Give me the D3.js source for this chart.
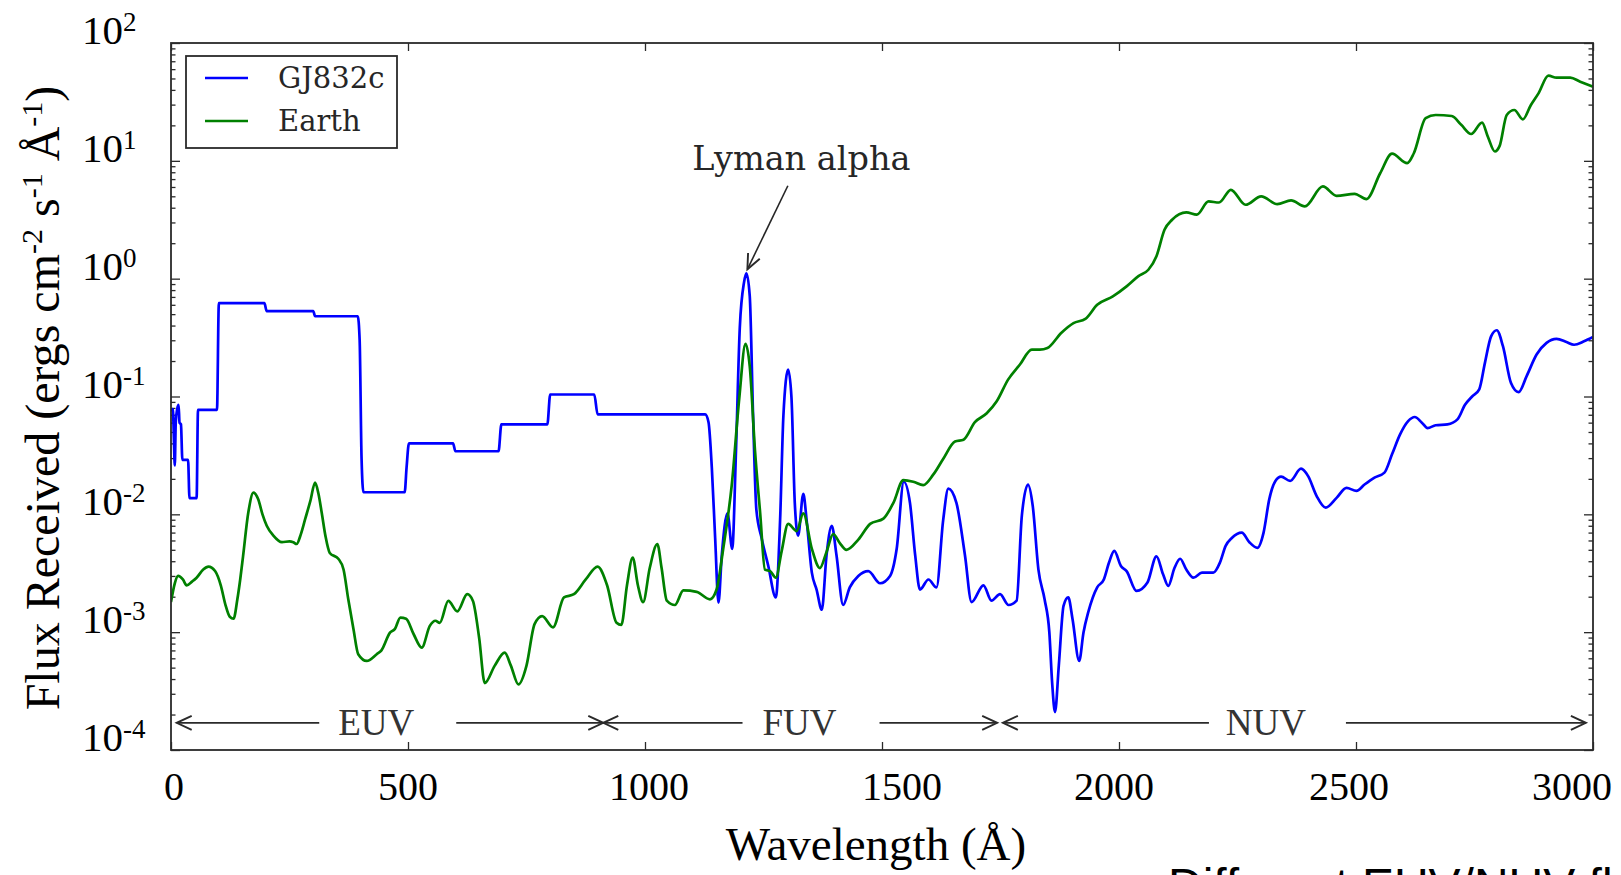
<!DOCTYPE html>
<html>
<head>
<meta charset="utf-8">
<script src="https://cdn.jsdelivr.net/npm/d3@7"></script>
<style>
html,body{margin:0;padding:0;background:#fff;overflow:hidden}
svg{display:block}
</style>
</head>
<body>
<svg id="chart" width="1621" height="875"></svg>
<script>
// ---------------- DATA ----------------
const seriesNames = ["GJ832c", "Earth"];
const seriesColors = ["#0000ff", "#008000"];

// GJ832c (blue): wavelength (Å) and flux (ergs cm^-2 s^-1 Å^-1)
const gjWave = [0,4,6,8,10,13,16,18,21,24,36,39,54,57,97,101,197,202,300,304,394,398,402,406,493,497,502,595,600,691,697,794,800,893,900,1127,
1134,1141,1148,1155,1162,1174,1184,1192,1200,1209,1214,1221,1228,1235,1246,1260,1276,1285,1292,1302,1309,1316,1323,1334,1341,1352,1362,1373,1383,1394,1404,1418,1432,1450,1471,1496,1517,1531,1546,1559,1570,1580,1598,1615,1629,1640,1657,1675,1689,1714,1731,1749,1767,1784,1795,1808,1818,1830,1843,1853,1859,1865,1873,1883,1893,1902,1916,1925,1935,1954,1968,1979,1990,2004,2016,2037,2060,2079,2093,2104,2117,2129,2142,2157,2175,2199,2213,2225,2238,2259,2275,2292,2305,2317,2330,2342,2361,2384,2399,2417,2436,2459,2480,2501,2518,2539,2560,2576,2593,2610,2624,2639,2651,2668,2693,2714,2730,2745,2760,2772,2785,2797,2810,2827,2843,2860,2881,2902,2923,2944,2960,2981,3000];
const gjFlux = [0.075,0.078,0.045,0.026,0.06,0.078,0.085,0.06,0.058,0.029,0.029,0.0137,0.0137,0.077,0.077,0.62,0.62,0.53,0.53,0.48,0.48,0.3,0.03,0.0154,0.0154,0.025,0.04,0.04,0.0343,0.0343,0.058,0.058,0.104,0.104,0.0705,0.0705,
0.0605,0.0248,0.0063,0.00178,0.0045,0.0102,0.0051,0.035,0.385,0.935,1.11,0.71,0.069,0.0109,0.0063,0.00366,0.00197,0.0089,0.069,0.169,0.098,0.0125,0.0066,0.0149,0.0089,0.0032,0.0023,0.00155,0.0045,0.008,0.0045,0.0017,0.0024,0.003,0.0033,0.0026,0.003,0.0051,0.0189,0.0125,0.0045,0.0023,0.0028,0.0024,0.0089,0.0165,0.0125,0.0045,0.0018,0.0025,0.00185,0.0021,0.0017,0.00185,0.0097,0.0179,0.0118,0.0034,0.0019,0.001,0.00037,0.00021,0.00052,0.00167,0.00197,0.00129,0.00057,0.00099,0.00147,0.0024,0.0028,0.0039,0.0049,0.00365,0.0033,0.00224,0.00264,0.0044,0.0031,0.00247,0.0035,0.0042,0.0034,0.0029,0.0032,0.0032,0.0039,0.0054,0.0063,0.007,0.0058,0.0052,0.007,0.0134,0.0192,0.0209,0.0192,0.0244,0.0211,0.0143,0.0114,0.0138,0.0168,0.0158,0.0179,0.0205,0.0226,0.0323,0.0477,0.0618,0.067,0.06,0.054,0.057,0.058,0.064,0.085,0.1,0.115,0.193,0.324,0.365,0.267,0.13,0.109,0.149,0.227,0.285,0.308,0.29,0.275,0.294,0.32];

// Earth (green)
const earthWave = [0,8,15,25,33,45,54,68,79,93,105,115,124,132,140,146,152,163,174,184,193,202,216,234,250,258,265,274,283,294,304,311,318,326,335,353,364,374,385,395,413,434,444,462,472,484,496,512,529,546,558,567,585,604,625,637,650,662,683,704,717,733,750,767,783,806,829,850,875,900,920,940,950,962,974,985,996,1010,1026,1035,1046,1063,1081,1109,1137,1151,1165,1183,1199,1212,1221,1232,1243,1253,1264,1276,1288,1302,1320,1334,1352,1369,1383,1397,1411,1425,1450,1475,1503,1524,1545,1566,1587,1608,1629,1654,1672,1696,1721,1742,1766,1791,1816,1833,1849,1878,1904,1929,1954,1987,2016,2041,2062,2079,2096,2112,2142,2164,2189,2211,2236,2267,2300,2334,2363,2392,2430,2459,2497,2522,2551,2576,2608,2622,2647,2668,2702,2722,2743,2766,2778,2793,2803,2818,2834,2852,2869,2885,2906,2923,2952,2973,3000];
const earthFlux = [0.0018,0.0026,0.003,0.0028,0.0025,0.0027,0.0029,0.0034,0.0036,0.0033,0.0025,0.0017,0.00135,0.0013,0.0019,0.0028,0.0044,0.0103,0.0153,0.0134,0.01,0.008,0.0066,0.0058,0.0059,0.0058,0.0056,0.0068,0.0091,0.013,0.0186,0.015,0.0103,0.0065,0.0047,0.0042,0.0034,0.0019,0.00106,0.00065,0.00057,0.00065,0.0007,0.00099,0.00106,0.00133,0.0013,0.00096,0.00074,0.00113,0.00125,0.0012,0.00184,0.0015,0.0021,0.00184,0.0009,0.00037,0.00052,0.00067,0.00052,0.00036,0.00052,0.00117,0.00137,0.0011,0.00197,0.0021,0.0028,0.0036,0.0025,0.0012,0.00115,0.0025,0.0043,0.0025,0.0018,0.0035,0.0056,0.0035,0.00185,0.0017,0.00226,0.0022,0.0019,0.0023,0.0051,0.0177,0.098,0.28,0.18,0.035,0.0102,0.0034,0.0033,0.0029,0.0048,0.0083,0.0072,0.0102,0.0051,0.0035,0.0048,0.0068,0.0057,0.005,0.0061,0.0083,0.0092,0.0125,0.0195,0.0189,0.0177,0.0217,0.0295,0.0415,0.043,0.0605,0.072,0.091,0.139,0.187,0.25,0.25,0.258,0.346,0.42,0.455,0.6,0.707,0.86,1.05,1.19,1.55,2.6,3.16,3.65,3.49,4.52,4.43,5.68,4.24,4.99,4.29,4.61,4.1,6.06,5.05,5.25,4.73,7.85,11.5,9.55,11.6,23,24.5,24,20.2,16.9,21.1,16.1,12,13.4,24.5,27,22.5,29.8,37.4,52.8,50.8,50.8,47,42.6];

// Axes
const xTickValues = [0,500,1000,1500,2000,2500,3000];
const xTickLabels = ["0","500","1000","1500","2000","2500","3000"];
const yExponents = [-4,-3,-2,-1,0,1,2];
const yTickLabelBase = "10";

// Spectral regions (Å)
const regionNames = ["EUV","FUV","NUV"];
const regionStart = [12, 912, 1755];
const regionEnd   = [912, 1743, 2985];
const regionLabelAt = [433, 1326, 2310];
const regionArrowFlux = 1.7e-4;

// Lyman alpha annotation
const annLabel = "Lyman alpha";
const annPoint = [1216, 1.2];
const annText = [1330, 8.4];

// Text
const xTitle = "Wavelength (Å)";
const yTitleParts = [["Flux Received (ergs cm", false], ["-2", true], [" s", false], ["-1", true], [" Å", false], ["-1", true], [")", false]];
const caption = "Different EUV/NUV fluxes";

// ---------------- LAYOUT / STYLE ----------------
const plot = {left:171, right:1593, top:43, bottom:750};
const xLabelShift = [3,0,4,20,-5,-7,-21]; // placement of the retyped tick labels
const serif = "'Liberation Serif','Times New Roman',Times,serif";
const dserif = "'DejaVu Serif',serif";
const sans = "'Liberation Sans',Arial,sans-serif";
const ink = "#2a2a2a";

const svg = d3.select("#chart");
const x = d3.scaleLinear().domain([0,3000]).range([plot.left, plot.right]);
const y = d3.scaleLog().domain([1e-4,1e2]).range([plot.bottom, plot.top]);

// ticks via d3 axes (inward)
function styleAxis(g){
  g.select(".domain").remove();
  g.selectAll(".tick line").attr("stroke", ink).attr("stroke-width", 1.3);
}
svg.append("g").attr("transform",`translate(0,${plot.bottom})`)
  .call(d3.axisBottom(x).tickValues(xTickValues).tickSize(-8).tickFormat("")).call(styleAxis);
svg.append("g").attr("transform",`translate(0,${plot.top})`)
  .call(d3.axisTop(x).tickValues(xTickValues).tickSize(-8).tickFormat("")).call(styleAxis);

const majorY = yExponents.map(e => Math.pow(10,e));
const minorY = [];
yExponents.slice(0,-1).forEach(e => { for (let k=2;k<=9;k++) minorY.push(k*Math.pow(10,e)); });
[[d3.axisLeft, plot.left],[d3.axisRight, plot.right]].forEach(([ax,pos])=>{
  svg.append("g").attr("transform",`translate(${pos},0)`)
    .call(ax(y).tickValues(majorY).tickSize(-9).tickFormat("")).call(styleAxis);
  svg.append("g").attr("transform",`translate(${pos},0)`)
    .call(ax(y).tickValues(minorY).tickSize(-4.5).tickFormat("")).call(styleAxis);
});

// x tick labels
svg.append("g").selectAll("text").data(xTickValues).join("text")
  .attr("x",(d,i)=>x(d)+xLabelShift[i]).attr("y",800)
  .attr("text-anchor","middle").attr("font-family",serif).attr("font-size",40).attr("fill","#000")
  .text((d,i)=>xTickLabels[i]);

// y tick labels 10^n
const yl = svg.append("g").selectAll("text").data(yExponents).join("text")
  .attr("x",82).attr("y",d=>y(Math.pow(10,d))+1)
  .attr("font-family",serif).attr("font-size",41).attr("fill","#000");
yl.append("tspan").text(yTickLabelBase);
yl.append("tspan").attr("dy",-13).attr("font-size",27).text(d=>String(d));

// data lines
const line = d3.line().x(d=>x(d[0])).y(d=>y(d[1])).curve(d3.curveMonotoneX);
svg.append("clipPath").attr("id","pc").append("rect")
  .attr("x",plot.left).attr("y",plot.top).attr("width",plot.right-plot.left).attr("height",plot.bottom-plot.top);
const series = [d3.zip(gjWave,gjFlux), d3.zip(earthWave,earthFlux)];
svg.append("g").attr("clip-path","url(#pc)").selectAll("path").data(series).join("path")
  .attr("d",line).attr("fill","none").attr("stroke",(d,i)=>seriesColors[i])
  .attr("stroke-width",2.7).attr("stroke-linejoin","round");

// frame
svg.append("rect").attr("x",plot.left).attr("y",plot.top)
  .attr("width",plot.right-plot.left).attr("height",plot.bottom-plot.top)
  .attr("fill","none").attr("stroke",ink).attr("stroke-width",1.8);

// arrowhead helper
function arrowHead(g, tx, ty, ux, uy, L, Wd){
  const nx=-uy, ny=ux;
  g.append("path").attr("d",
    `M${tx-L*ux+Wd*nx},${ty-L*uy+Wd*ny}L${tx},${ty}L${tx-L*ux-Wd*nx},${ty-L*uy-Wd*ny}`)
    .attr("fill","none").attr("stroke",ink).attr("stroke-width",1.9);
}

// region arrows
const ra = svg.append("g");
const ry = y(regionArrowFlux);
regionNames.forEach((name,i)=>{
  const x0=x(regionStart[i]), x1=x(regionEnd[i]), xc=x(regionLabelAt[i]);
  ra.append("line").attr("x1",x0).attr("x2",xc-57).attr("y1",ry).attr("y2",ry).attr("stroke",ink).attr("stroke-width",1.9);
  ra.append("line").attr("x1",xc+80).attr("x2",x1).attr("y1",ry).attr("y2",ry).attr("stroke",ink).attr("stroke-width",1.9);
  arrowHead(ra,x0,ry,-1,0,15,7);
  arrowHead(ra,x1,ry,1,0,15,7);
  ra.append("text").attr("x",xc).attr("y",ry+12).attr("text-anchor","middle")
    .attr("font-family",serif).attr("font-size",37).attr("fill","#333").text(name);
});

// Lyman alpha annotation
const ag = svg.append("g");
const tx = x(annText[0]), tyb = y(annText[1]);
ag.append("text").attr("x",tx).attr("y",tyb).attr("text-anchor","middle")
  .attr("font-family",dserif).attr("font-size",33.5).attr("fill","#262626").text(annLabel);
const px = x(annPoint[0]), py = y(annPoint[1]);
const cx = tx, cy = tyb-12;
const sy = tyb+16, t = (sy-cy)/(py-cy), sx = cx + t*(px-cx);
ag.append("line").attr("x1",sx).attr("y1",sy).attr("x2",px).attr("y2",py).attr("stroke","#262626").attr("stroke-width",1.6);
{
  const dx=px-sx, dy=py-sy, len=Math.hypot(dx,dy);
  arrowHead(ag,px,py,dx/len,dy/len,15,6.5);
}

// legend
const lg = svg.append("g");
lg.append("rect").attr("x",186).attr("y",56).attr("width",211).attr("height",92)
  .attr("fill","#fff").attr("stroke",ink).attr("stroke-width",1.8);
seriesNames.forEach((n,i)=>{
  const yy = 78 + i*43;
  lg.append("line").attr("x1",205).attr("x2",248).attr("y1",yy).attr("y2",yy)
    .attr("stroke",seriesColors[i]).attr("stroke-width",2.7);
  lg.append("text").attr("x",278).attr("y",yy+10).attr("font-family",dserif)
    .attr("font-size",29).attr("fill","#262626").text(n);
});

// axis titles
svg.append("text").attr("x",876).attr("y",860).attr("text-anchor","middle")
  .attr("font-family",serif).attr("font-size",47).attr("fill","#000").text(xTitle);
const yt = svg.append("text").attr("transform","translate(59,398) rotate(-90)")
  .attr("text-anchor","middle").attr("font-family",serif).attr("font-size",48).attr("fill","#000");
let raised = false;
yTitleParts.forEach(([s,sup])=>{
  const ts = yt.append("tspan").text(s);
  if (sup && !raised){ ts.attr("dy",-17).attr("font-size",30); raised=true; }
  else if (!sup && raised){ ts.attr("dy",17); raised=false; }
  else if (sup) ts.attr("font-size",30);
});

// caption (cut off by the picture edge, as in the reference)
svg.append("text").attr("x",1168).attr("y",902).attr("font-family",sans)
  .attr("font-size",48).attr("fill","#000").text(caption);
</script>
</body>
</html>
